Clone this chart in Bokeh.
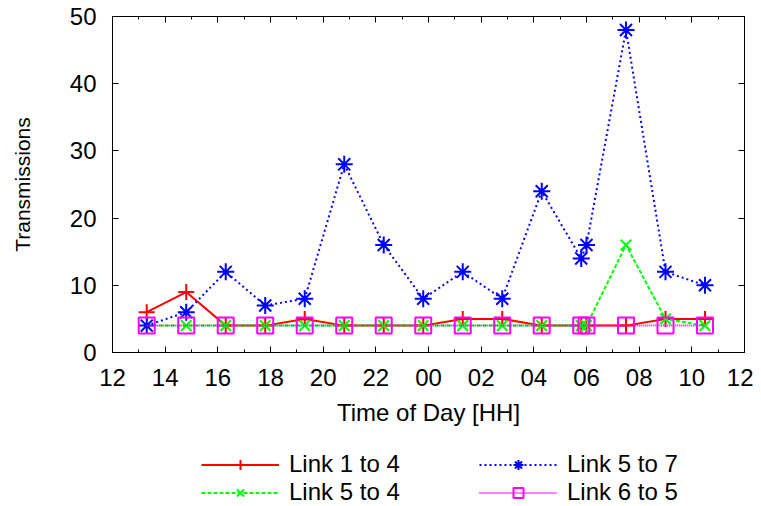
from bokeh.plotting import figure
from bokeh.layouts import column
from bokeh.models import (FixedTicker, LinearAxis, Legend, LegendItem, Range1d,
                          ColumnDataSource, CustomJSTickFormatter)
from bokeh.embed import file_html
from bokeh.resources import INLINE

# ---- data (hours since midnight of day 1; values > 24 are the next day) ----
hours = [13.3, 14.8, 16.3, 17.8, 19.3, 20.8, 22.3, 23.8, 25.3, 26.8, 28.3,
         29.8, 30.0, 31.5, 33.0, 34.5]
link_1_to_4 = [6, 9, 4, 4, 5, 4, 4, 4, 5, 5, 4, 4, 4, 4, 5, 5]
link_5_to_4 = [4, 4, 4, 4, 4, 4, 4, 4, 4, 4, 4, 4, 4, 16, 5, 4]
link_5_to_7 = [4, 6, 12, 7, 8, 28, 16, 8, 12, 8, 24, 14, 16, 48, 12, 10]
link_6_to_5 = [4, 4, 4, 4, 4, 4, 4, 4, 4, 4, 4, 4, 4, 4, 4, 4]
series_labels = ["Link 1 to 4", "Link 5 to 4", "Link 5 to 7", "Link 6 to 5"]

x_tick_values = [12, 14, 16, 18, 20, 22, 24, 26, 28, 30, 32, 34, 36]
x_tick_labels = ["12", "14", "16", "18", "20", "22", "00", "02", "04", "06",
                 "08", "10", "12"]
x_minor_values = [13, 15, 17, 19, 21, 23, 25, 27, 29, 31, 33, 35]
y_tick_values = [0, 10, 20, 30, 40, 50]

FONT = "Liberation Sans"
FS = "24px"
W = 753

src = ColumnDataSource(dict(x=hours, a=link_1_to_4, b=link_5_to_4,
                            c=link_5_to_7, d=link_6_to_5))

p = figure(width=W, height=442, output_backend="svg",
           toolbar_location=None, x_range=Range1d(12, 36), y_range=Range1d(0, 50),
           min_border_left=112, min_border_right=9, min_border_top=16,
           min_border_bottom=90)
p.background_fill_color = "white"
p.border_fill_color = "white"
p.outline_line_color = "black"
p.outline_line_width = 1
p.xgrid.visible = False
p.ygrid.visible = False

xt = FixedTicker(ticks=x_tick_values, minor_ticks=x_minor_values)
yt = FixedTicker(ticks=y_tick_values, minor_ticks=[])

def style_axis(ax):
    ax.axis_line_color = "black"
    ax.major_tick_in = 6
    ax.major_tick_out = 0
    ax.minor_tick_in = 3
    ax.minor_tick_out = 0
    ax.major_tick_line_color = "black"
    ax.minor_tick_line_color = "black"
    ax.major_label_text_font = FONT
    ax.major_label_text_font_size = FS
    ax.major_label_text_color = "black"
    ax.axis_label_text_font = FONT
    ax.axis_label_text_font_size = FS
    ax.axis_label_text_font_style = "normal"
    ax.axis_label_text_color = "black"

xa = p.xaxis[0]
xa.ticker = xt
xa.major_label_overrides = {v: l for v, l in zip(x_tick_values, x_tick_labels)}
xa.axis_label = "Time of Day [HH]"
style_axis(xa)
xa.major_label_standoff = 16
xa.axis_label_standoff = 10

ya = p.yaxis[0]
ya.ticker = yt
ya.axis_label = "Transmissions"
style_axis(ya)
ya.axis_label_text_font_size = "21px"
ya.major_label_standoff = 16
ya.axis_label_standoff = 33

empty = CustomJSTickFormatter(code="return ''")
top = LinearAxis(ticker=xt, formatter=empty)
style_axis(top)
top.major_label_standoff = 0
right = LinearAxis(ticker=yt, formatter=empty)
style_axis(right)
right.major_label_standoff = 0
p.add_layout(top, "above")
p.add_layout(right, "right")

styles = [
    dict(col="a", color="#ff0000", dash="solid", marker="cross", size=16),
    dict(col="b", color="#00ff00", dash="4 2", marker="x", size=15),
    dict(col="c", color="#0000ff", dash="2 3", marker="asterisk", size=17),
    dict(col="d", color="#ff00ff", dash="1 1", marker="square", size=16),
]

def draw(fig):
    out = []
    for s in styles:
        rl = fig.line("x", s["col"], source=src, line_color=s["color"],
                      line_width=2, line_dash=s["dash"])
        rm = fig.scatter("x", s["col"], source=src, marker=s["marker"],
                         size=s["size"], line_color=s["color"], fill_color=None,
                         line_width=2)
        out.append((rl, rm))
    return out

draw(p)

# legend strip below the chart (its copies of the series lie outside its view)
lf = figure(width=W, height=64, output_backend="svg", toolbar_location=None,
            x_range=Range1d(-3, -2), y_range=Range1d(-3, -2),
            min_border=0)
lf.axis.visible = False
lf.xgrid.visible = False
lf.ygrid.visible = False
lf.outline_line_color = None
lf.background_fill_color = "white"
lf.border_fill_color = "white"
lr = draw(lf)

legend = Legend(items=[LegendItem(label=lab, renderers=list(r))
                       for lab, r in zip(series_labels, lr)],
                orientation="vertical", nrows=2, location=(89, 0))
legend.label_text_font = FONT
legend.label_text_font_size = FS
legend.label_text_color = "black"
legend.label_height = 25
legend.label_width = 190
legend.glyph_height = 25
legend.glyph_width = 78
legend.label_standoff = 10
legend.spacing = 0
legend.padding = 0
legend.margin = 0
legend.border_line_color = None
legend.background_fill_alpha = 0
lf.add_layout(legend, "center")

layout = column(p, lf)
open("out.html", "w").write(file_html(layout, INLINE))
